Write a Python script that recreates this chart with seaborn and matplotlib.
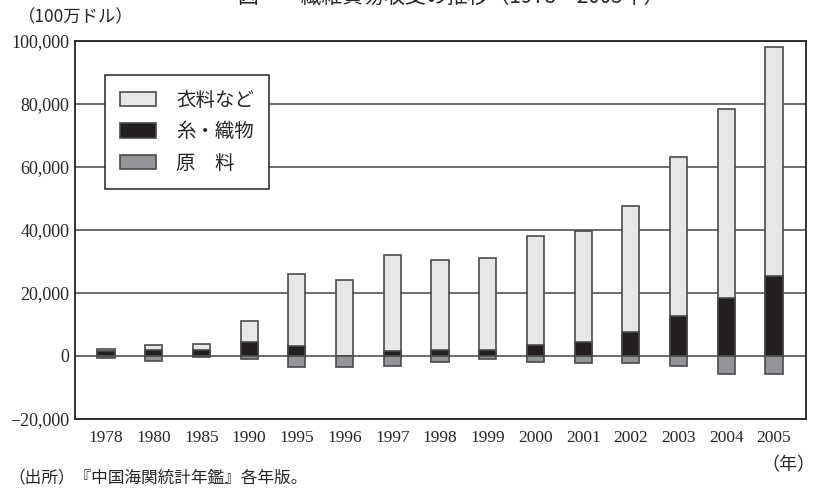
import pandas as pd
import seaborn as sns
import matplotlib.pyplot as plt
from matplotlib.patches import Patch

# ---------------------------- dados (100万ドル) ---------------------------- #
anos = ['1978', '1980', '1985', '1990', '1995', '1996', '1997', '1998',
        '1999', '2000', '2001', '2002', '2003', '2004', '2005']
vestuario = [400, 1700, 1900, 6600, 22900, 24000, 30600, 28800,
             29000, 34700, 35400, 40000, 50600, 60100, 72500]
fios_tecidos = [1700, 1900, 1800, 4400, 3100, 0, 1600, 1800,
                2000, 3500, 4300, 7500, 12700, 18300, 25500]
materia_prima = [-500, -1500, -200, -850, -3500, -3400, -3300, -1900,
                 -1050, -1900, -2100, -2100, -3300, -5800, -5800]

rotulos = ['衣料など', '糸・織物', '原　料']
cores = ['#e6e7e8', '#231f20', '#939598']

df = pd.DataFrame({'ano': anos, 'vestuario': vestuario,
                   'fios': fios_tecidos, 'materia': materia_prima})
df['topo'] = df['vestuario'] + df['fios']

# ---------------------------- grafico ---------------------------- #
sns.set_style('white')
plt.rcParams['font.family'] = ['Noto Sans CJK JP', 'DejaVu Sans']

fig = plt.figure(figsize=(8.23, 4.88), dpi=100)
ax = fig.add_axes([75 / 823, 1 - 419 / 488, 731 / 823, 378 / 488])

borda = '#4a4a4a'
largura = 0.36
sns.barplot(data=df, x='ano', y='topo', color=cores[0], width=largura,
            edgecolor=borda, linewidth=1.2, saturation=1, ax=ax, zorder=3)
sns.barplot(data=df, x='ano', y='fios', color=cores[1], width=largura,
            edgecolor=borda, linewidth=1.2, saturation=1, ax=ax, zorder=3)
sns.barplot(data=df, x='ano', y='materia', color=cores[2], width=largura,
            edgecolor=borda, linewidth=1.2, saturation=1, ax=ax, zorder=3)

ax.set_ylim(-20000, 100000)
ax.set_xlim(-0.65, len(anos) - 1 + 0.67)
ax.set_yticks(range(-20000, 100001, 20000))
ax.set_yticklabels([f'{v:,}'.replace('-', '\u2212') for v in range(-20000, 100001, 20000)],
                   family='Liberation Serif', fontsize=13)
ax.set_xticks(range(len(anos)))
ax.set_xticklabels(anos, family='Liberation Serif', fontsize=12.5)
ax.tick_params(axis='y', length=0, pad=4)
ax.tick_params(axis='x', direction='in', length=5, width=1, color='#333333', pad=8)
ax.set_xlabel('')
ax.set_ylabel('')
ax.yaxis.grid(True, color='#444444', linewidth=1.1, zorder=0)
ax.set_axisbelow(True)
for s in ax.spines.values():
    s.set_color('#222222')
    s.set_linewidth(1.3)

handles = [Patch(facecolor=c, edgecolor=borda, linewidth=1.2) for c in cores]
leg = ax.legend(handles, rotulos, loc='upper left', bbox_to_anchor=(0.041, 0.91),
                borderaxespad=0, fontsize=14, frameon=True, fancybox=False,
                edgecolor='#222222', framealpha=1, handlelength=1.9,
                handleheight=0.75, labelspacing=0.55, borderpad=0.75,
                handletextpad=1.0)
leg.get_frame().set_linewidth(1.1)
leg.set_zorder(5)

fig.text(18 / 823, 1 - 17 / 488, '（100万ドル）', fontsize=12.5, va='center', ha='left')
fig.text(1 - 8 / 823, 1 - 465 / 488, '（年）', fontsize=13, va='center', ha='right')
fig.text(8 / 823, 1 - 478 / 488, '（出所）『中国海関統計年鑑』各年版。', fontsize=12, va='center', ha='left')
fig.text(238 / 823, 1 - 3 / 488, '図　　繊維貿易収支の推移（1978～2005年）', fontsize=15,
         va='baseline', ha='left')

fig.savefig('out.png', dpi=100)
